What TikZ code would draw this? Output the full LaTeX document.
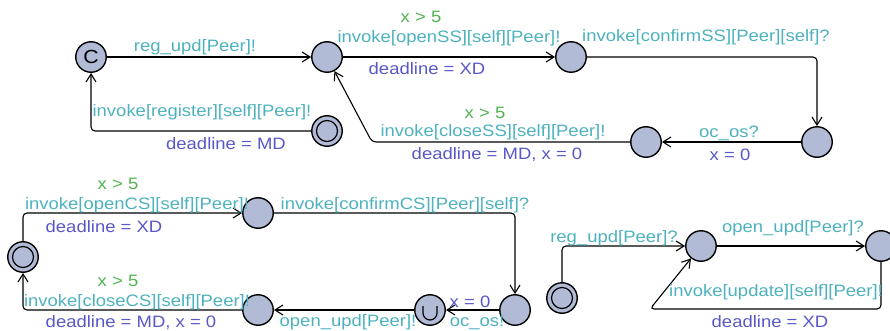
\documentclass[tikz,border=0pt]{standalone}
\usepackage{fontspec}
\setmainfont{Liberation Sans}[FakeStretch=1.12]
\usepackage{xcolor}
\usepackage{tikz}
\usetikzlibrary{arrows.meta}
\definecolor{locfill}{RGB}{178,187,214}
\definecolor{synccol}{RGB}{77,178,190}
\definecolor{guardcol}{RGB}{80,180,80}
\definecolor{updcol}{RGB}{88,88,200}

\begin{document}
\begin{tikzpicture}[x=1pt,y=-1pt,
    every node/.style={font=\fontsize{16.5}{18}\selectfont},
    loc/.style={circle,draw,fill=locfill,line width=1.4pt,minimum size=30.5pt,inner sep=0pt},
    initloc/.style={loc,path picture={\draw[line width=1.2pt] (path picture bounding box.center) circle (10.5pt);}},
    urgloc/.style={loc,path picture={\draw[line width=1.2pt] ([shift={(-7pt,4pt)}]path picture bounding box.center) -- ++(0pt,-7pt) arc[start angle=180,end angle=360,radius=7pt] -- ++(0pt,7pt);}},
    edge/.style={line width=1.1pt,-{Straight Barb[length=8pt,width=10pt]},rounded corners=4pt},
    sync/.style={text=synccol,inner sep=0pt},
    guard/.style={text=guardcol,inner sep=0pt},
    upd/.style={text=updcol,inner sep=0pt}]
    \useasboundingbox (0,0) rectangle (890,331);
        \node (c0) at (91,57)[loc,font=\fontsize{19}{20}\selectfont]{C};
        \node (s1) at (327,57)[loc]{};
        \node (s2) at (571,57)[loc]{};
        \node (s3) at (817,142)[loc]{};
        \node (s4) at (646,142)[loc]{};
        \node (s0) at (327,131)[initloc]{};
        \coordinate (k1) at (372,142);
        \draw[edge] (c0)--(s1);
        \draw[edge] (s1)--(s2);
        \draw[edge] (s2)-|(s3);
        \draw[edge] (s3)--(s4);
        \draw[edge] (s4)--(k1)--(s1);
        \draw[edge] (s0)-|(c0);
        \node (l1) at (195,47)[sync]{reg\_upd[Peer]!};
        \node (l2) at (421,17)[guard]{x > 5};
        \node (l3) at (449,38)[sync]{invoke[openSS][self][Peer]!};
        \node (l4) at (427,69)[upd]{deadline = XD};
        \node (l5) at (706,37)[sync]{invoke[confirmSS][Peer][self]?};
        \node (l6) at (729,133)[sync]{oc\_os?};
        \node (l7) at (730,155)[upd]{x = 0};
        \node (l8) at (485,113)[guard]{x > 5};
        \node (l9) at (493,132)[sync]{invoke[closeSS][self][Peer]!};
        \node (l10) at (497,155)[upd]{deadline = MD, x = 0};
        \node (l11) at (202,112)[sync]{invoke[register][self][Peer]!};
        \node (l12) at (226,144)[upd]{deadline = MD};
        \node (t0) at (23,257)[initloc]{};
        \node (t1) at (258,213)[loc]{};
        \node (t2) at (515,310)[loc]{};
        \node (t3) at (430,310)[urgloc]{};
        \node (t4) at (258,310)[loc]{};
        \draw[edge] (t0)|-(t1);
        \draw[edge] (t1)-|(t2);
        \draw[edge] (t2)--(t3);
        \draw[edge] (t3)--(t4);
        \draw[edge] (t4)-|(t0);
        \node (m1) at (118,184)[guard]{x > 5};
        \node (m2) at (137,205)[sync]{invoke[openCS][self][Peer]!};
        \node (m3) at (104,227)[upd]{deadline = XD};
        \node (m4) at (405,205)[sync]{invoke[confirmCS][Peer][self]?};
        \node (m5) at (470,302)[upd]{x = 0};
        \node (m6) at (477,322)[sync]{oc\_os!};
        \node (m7) at (348,322)[sync]{open\_upd[Peer]!};
        \node (m8) at (118,281)[guard]{x > 5};
        \node (m9) at (137,302)[sync]{invoke[closeCS][self][Peer]!};
        \node (m10) at (131,323)[upd]{deadline = MD, x = 0};
        \node (u0) at (562,298)[initloc]{};
        \node (u1) at (701,246)[loc]{};
        \node (u2) at (881,246)[loc]{};
        \coordinate (k2) at (650,309);
        \draw[edge] (u0)|-(u1);
        \draw[edge] (u1)--(u2);
        \draw[edge] (u2)|-(k2)--(u1);
        \node (r1) at (614,238)[sync]{reg\_upd[Peer]?};
        \node (r2) at (793,228)[sync]{open\_upd[Peer]?};
        \node (r3) at (776,292)[sync]{invoke[update][self][Peer]!};
        \node (r4) at (770,322)[upd]{deadline = XD};
    \end{tikzpicture}
\end{document}
